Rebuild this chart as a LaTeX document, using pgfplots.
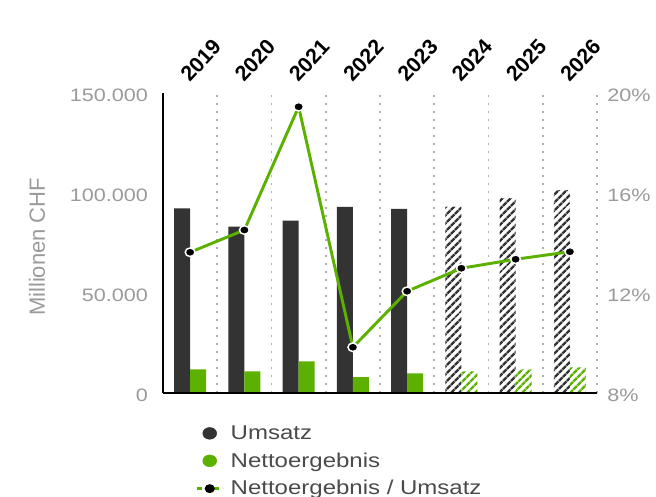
\documentclass[border=0pt]{standalone}
\usepackage{fontspec}
\setmainfont{Liberation Sans}[FakeStretch=1.2]
\newfontfamily\rotfont{Liberation Sans}
\usepackage{pgfplots}
\usepackage{pgfplotstable}
\pgfplotsset{compat=1.18}
\usetikzlibrary{patterns.meta}
\definecolor{darkbar}{HTML}{333333}
\definecolor{grn}{HTML}{5CB000}
\definecolor{tickgray}{HTML}{9A9A9A}
\definecolor{dotgray}{HTML}{B0B0B0}
\definecolor{leggray}{HTML}{4A4A4A}

\pgfplotstableread{
x umsatz netto
0 92300 11800
1 83200 10800
2 86200 15800
3 93100 7900
4 92100 9800
}\actual
\pgfplotstableread{
x umsatz netto
5 93200 10800
6 97400 11800
7 101400 12800
}\forecast
\pgfplotstableread{
x ratio
0 13.63
1 14.52
2 19.45
3 9.83
4 12.07
5 12.99
6 13.35
7 13.65
}\ratio

\begin{document}
\begin{tikzpicture}
\useasboundingbox (0,0) rectangle (492pt,372pt);
\begin{axis}[
  at={(122.25pt,77.25pt)}, anchor=south west,
  scale only axis, width=325.5pt, height=225pt,
  xmin=-0.5, xmax=7.5, ymin=0, ymax=150000,
  scaled y ticks=false,
  axis x line=top, axis y line=left,
  x axis line style={draw=none},
  y axis line style={line width=1.8pt, -},
  xtick={0,1,2,3,4,5,6,7},
  xticklabels={2019,2020,2021,2022,2023,2024,2025,2026},
  xtick style={draw=none},
  minor xtick={0.5,1.5,2.5,3.5,4.5,5.5,6.5,7.5},
  xminorgrids,
  minor x grid style={dotgray, line width=1.2pt, dash pattern=on 1.2pt off 4.8pt},
  minor tick length=0pt,
  xticklabel style={font=\rotfont\bfseries\fontsize{16}{16}\selectfont, black, rotate=47, anchor=south west, inner sep=0pt},
  xticklabel shift=5pt,
  ytick={0,50000,100000,150000},
  yticklabels={0,50.000,100.000,150.000},
  ytick style={draw=none},
  yticklabel style={font=\fontsize{13.5}{13.5}\selectfont, tickgray, inner sep=0pt, yshift=-2pt},
  yticklabel shift=9pt,
  /pgf/number format/assume math mode=true,
  ylabel={Millionen CHF},
  every axis y label/.style={at={(axis description cs:-0.2903,0.487)}, rotate=90, anchor=center, font=\rotfont\fontsize{16.5}{16.5}\selectfont, tickgray},
]
\addplot[ybar, bar width=12pt, bar shift=-6pt, fill=darkbar, draw=none] table[x=x,y=umsatz]{\actual};
\addplot[ybar, bar width=12pt, bar shift=6pt, fill=grn, draw=none] table[x=x,y=netto]{\actual};
\addplot[ybar, bar width=12pt, bar shift=-6pt, draw=none, fill=white, postaction={pattern={Lines[angle=45,distance=4pt,line width=2pt]}, pattern color=darkbar}] table[x=x,y=umsatz]{\forecast};
\addplot[ybar, bar width=12pt, bar shift=6pt, draw=none, fill=white, postaction={pattern={Lines[angle=45,distance=4pt,line width=2pt]}, pattern color=grn}] table[x=x,y=netto]{\forecast};
\end{axis}
\begin{axis}[
  at={(122.25pt,77.25pt)}, anchor=south west,
  scale only axis, width=325.5pt, height=225pt,
  xmin=-0.5, xmax=7.5, ymin=8, ymax=20,
  axis x line=bottom, axis y line=right,
  x axis line style={line width=1.8pt, -},
  y axis line style={draw=none},
  xtick=\empty,
  ytick={8,12,16,20},
  yticklabels={8\%,12\%,16\%,20\%},
  ytick style={draw=none},
  yticklabel style={font=\fontsize{13.5}{13.5}\selectfont, tickgray, inner sep=0pt, yshift=-2pt},
  yticklabel shift=5.5pt,
  /pgf/number format/assume math mode=true,
  legend style={at={(axis description cs:0.074,-0.103)}, anchor=north west, draw=none, fill=none,
    font=\fontsize{15}{15}\selectfont, text=leggray, row sep=6.5pt, inner sep=0pt,
    nodes={inner sep=1pt}},
  legend cell align=left,
]
\addlegendimage{legend image code/.code={\path[draw=none,fill=none] (0pt,0pt) -- (24.5pt,0pt); \fill[darkbar] (9.75pt,0pt) ellipse[x radius=5.2pt, y radius=4.4pt];}}
\addlegendentry{Umsatz}
\addlegendimage{legend image code/.code={\path[draw=none,fill=none] (0pt,0pt) -- (24.5pt,0pt); \fill[grn] (9.75pt,0pt) ellipse[x radius=5.2pt, y radius=4.4pt];}}
\addlegendentry{Nettoergebnis}
\addplot[grn, line width=2.2pt, mark=*, mark size=3.2pt,
  mark options={fill=black, draw=white, line width=1.1pt, xscale=1.15},
  legend image code/.code={
    \path[draw=none,fill=none] (0pt,0pt) -- (24.5pt,0pt);
    \draw[grn, line width=2pt, dash pattern=on 4pt off 2.5pt] (0pt,0pt) -- (19.5pt,0pt);
    \fill[black] (9.75pt,0pt) ellipse[x radius=2.6pt, y radius=2.2pt];}
] table[x=x,y=ratio]{\ratio};
\addlegendentry{Nettoergebnis / Umsatz}
\end{axis}
\end{tikzpicture}
\end{document}
